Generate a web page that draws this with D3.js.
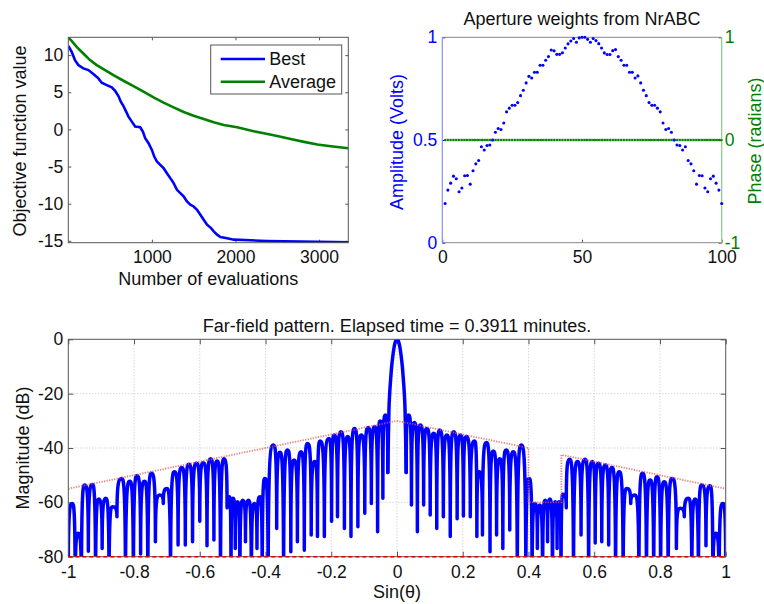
<!DOCTYPE html>
<html>
<head>
<meta charset="utf-8">
<script src="https://cdn.jsdelivr.net/npm/d3@7"></script>
<style>
  body { margin: 0; background: #fff; }
  svg text { font-family: "Liberation Sans", Arial, Helvetica, sans-serif; }
</style>
</head>
<body>
<svg id="fig" width="764" height="604"></svg>
<script>
// ---------- convergence history ----------
const bestEvals = [0, 8, 40, 80, 120, 180, 240, 300, 360, 400, 460, 520, 560, 600, 628, 660, 692, 720, 760, 800, 860, 892, 920, 960, 1000, 1028, 1060, 1100, 1140, 1180, 1220, 1260, 1300, 1340, 1380, 1420, 1460, 1500, 1540, 1580, 1620, 1660, 1708, 1740, 1780, 1820, 1900, 1980, 2180, 2380, 2780, 3180, 3350];
const bestValue = [11.2, 11.1, 10.45, 9.33, 8.66, 8.21, 7.99, 7.45, 6.87, 6.28, 5.97, 5.66, 5.21, 4.49, 3.73, 3.15, 2.39, 1.72, 1.05, 0.38, 0.29, -0.30, -1.19, -1.86, -2.76, -3.65, -4.32, -4.77, -5.22, -5.89, -6.56, -7.23, -8.13, -8.58, -9.02, -9.70, -10.14, -10.37, -10.81, -11.49, -12.16, -12.83, -13.28, -13.72, -14.17, -14.49, -14.66, -14.84, -14.93, -15.02, -15.11, -15.16, -15.2];
const avgEvals = [0, 40, 100, 180, 260, 340, 420, 540, 660, 780, 900, 1020, 1140, 1260, 1380, 1500, 1620, 1740, 1860, 2020, 2180, 2340, 2500, 2660, 2820, 2980, 3140, 3350];
const avgValue = [12.37, 11.92, 11.12, 10.22, 9.33, 8.66, 8.12, 7.31, 6.55, 5.84, 5.08, 4.32, 3.60, 2.97, 2.35, 1.85, 1.41, 0.96, 0.60, 0.29, -0.16, -0.52, -0.88, -1.28, -1.68, -2.04, -2.27, -2.53];
const convXTicks = [1000, 2000, 3000];
const convYTicks = [-15, -10, -5, 0, 5, 10];
const legendNames = ["Best", "Average"];

// ---------- aperture weights (element 1..100) ----------
const elementIndex = d3.range(1, 101);
const amplitude = [
  0.191, 0.256, 0.290, 0.324, 0.311, 0.248, 0.266, 0.326, 0.327, 0.285,
  0.350, 0.384, 0.400, 0.467, 0.451, 0.473, 0.476, 0.500, 0.538, 0.556,
  0.551, 0.583, 0.637, 0.655, 0.669, 0.669, 0.682, 0.716, 0.742, 0.778,
  0.810, 0.802, 0.830, 0.830, 0.864, 0.864, 0.888, 0.906, 0.938, 0.934,
  0.917, 0.917, 0.925, 0.948, 0.968, 0.982, 0.994, 0.976, 0.997, 1.000,
  1.000, 0.990, 0.976, 0.994, 0.984, 0.969, 0.948, 0.924, 0.916, 0.916,
  0.935, 0.940, 0.906, 0.888, 0.864, 0.864, 0.830, 0.830, 0.802, 0.812,
  0.778, 0.742, 0.716, 0.682, 0.669, 0.669, 0.655, 0.637, 0.583, 0.551,
  0.556, 0.538, 0.500, 0.476, 0.473, 0.451, 0.467, 0.400, 0.384, 0.350,
  0.285, 0.327, 0.326, 0.266, 0.248, 0.311, 0.324, 0.290, 0.256, 0.191
];
const phase = elementIndex.map(() => 0);
const apXTicks = [0, 50, 100];
const ampTicks = [0, 0.5, 1];
const phaseTicks = [-1, 0, 1];

// ---------- far-field pattern ----------
// main beam samples
const mainU  = [-0.028, -0.0262, -0.0245, -0.0223, -0.0195, -0.0162, -0.0125, -0.009, -0.005, 0, 0.005, 0.009, 0.0125, 0.0162, 0.0195, 0.0223, 0.0245, 0.0262, 0.028];
const mainDb = [-49, -36, -26, -20, -15, -10, -6, -3, -0.9, 0, -0.9, -3, -6, -10, -15, -20, -26, -36, -49];
// sidelobe peaks
const lobeU = [
  -0.988, -0.970, -0.950, -0.927, -0.907, -0.886, -0.866, -0.838, -0.813, -0.791,
  -0.768, -0.747, -0.722, -0.700, -0.677, -0.655, -0.633, -0.610, -0.589, -0.567,
  -0.547, -0.526, -0.510, -0.499, -0.485, -0.469, -0.452, -0.434, -0.417, -0.402,
  -0.376, -0.356, -0.333, -0.313, -0.292, -0.272, -0.250, -0.234, -0.207, -0.191,
  -0.1705, -0.150, -0.129, -0.109, -0.088, -0.068, -0.051, -0.0355,
  0.0355, 0.0527, 0.071, 0.091, 0.112, 0.130, 0.152, 0.1725, 0.193, 0.211,
  0.236, 0.250, 0.272, 0.293, 0.313, 0.332, 0.354, 0.378, 0.402, 0.420,
  0.434, 0.451, 0.465, 0.481, 0.493, 0.505, 0.525, 0.549, 0.572, 0.594,
  0.613, 0.634, 0.654, 0.676, 0.699, 0.724, 0.747, 0.770, 0.791, 0.813,
  0.837, 0.862, 0.887, 0.907, 0.927, 0.952, 0.970, 0.991
];
const lobeDb = [
  -60.4, -71.4, -53.6, -53.4, -58.8, -58.5, -61.6, -51.2, -52.2, -50.2,
  -52.2, -49.3, -57.3, -54.9, -48.7, -47.2, -46.0, -45.6, -45.4, -44.0,
  -44.8, -44.0, -57.9, -58.5, -59.8, -59.2, -59.2, -60.4, -57.9, -51.2,
  -38.9, -41.6, -40.7, -44.4, -41.4, -38.3, -45.0, -37.4, -36.5, -35.2,
  -34.0, -35.8, -32.8, -35.2, -32.5, -32.2, -30.1, -27.9,
  -27.9, -30.6, -31.5, -32.8, -34.6, -33.4, -35.2, -34.0, -35.2, -35.8,
  -37.4, -48.7, -38.0, -41.1, -44.0, -40.7, -41.4, -38.9, -51.2, -60.4,
  -61.0, -59.2, -58.8, -59.8, -59.8, -57.0, -44.1, -45.0, -44.1, -45.0,
  -45.6, -46.3, -47.2, -48.7, -54.9, -57.3, -49.3, -51.8, -50.6, -52.4,
  -51.2, -62.2, -58.5, -58.8, -53.6, -53.9, -71.4, -60.4
];
// pattern nulls between the lobes (values below -80 lie off the axes)
const nullU = [
  -1.000, -0.979, -0.960, -0.939, -0.917, -0.897, -0.876, -0.852, -0.826, -0.802,
  -0.780, -0.758, -0.735, -0.711, -0.689, -0.666, -0.644, -0.622, -0.600, -0.578,
  -0.557, -0.537, -0.517, -0.505, -0.492, -0.478, -0.461, -0.443, -0.426, -0.410,
  -0.392, -0.366, -0.345, -0.323, -0.303, -0.282, -0.261, -0.242, -0.221, -0.199,
  -0.181, -0.160, -0.140, -0.119, -0.098, -0.078, -0.059, -0.043, -0.028,
  0.028, 0.044, 0.062, 0.081, 0.101, 0.121, 0.141, 0.162, 0.183, 0.202,
  0.223, 0.243, 0.260, 0.283, 0.303, 0.322, 0.343, 0.366, 0.392, 0.411,
  0.427, 0.443, 0.458, 0.473, 0.487, 0.499, 0.515, 0.537, 0.560, 0.583,
  0.603, 0.623, 0.644, 0.665, 0.688, 0.711, 0.736, 0.759, 0.781, 0.802,
  0.825, 0.850, 0.874, 0.897, 0.917, 0.940, 0.961, 0.980, 1.000
];
const nullDb = [
  -85, -95, -95, -78, -95, -77, -95, -65.3, -95, -95,
  -79, -95, -74.5, -60.4, -95, -75.7, -75.7, -74.5, -67, -76,
  -73.9, -95, -62, -95, -77, -95, -74.5, -95, -77, -95,
  -95, -69.6, -95, -78.2, -74.5, -77.6, -72, -72.6, -72.6, -67,
  -65.3, -69.6, -72.6, -69, -64, -60.4, -70.8, -58.5, -49,
  -49, -61, -70.8, -61, -64.7, -69.6, -65.3, -72.6, -66, -65,
  -65.3, -72.6, -72, -78.2, -72, -77, -70.2, -95, -95, -95,
  -77, -95, -74.5, -95, -77, -95, -62, -95, -72, -95,
  -75, -74.5, -75.7, -95, -95, -60.4, -95, -95, -95, -95,
  -95, -77, -65.3, -95, -95, -76, -95, -95, -85
];
// sidelobe mask
const maskU  = [-1, 0, 0.4, 0.4, 0.5, 0.5, 1];
const maskDb = [-55, -30, -40, -60, -60, -42.5, -55];
const floorU  = [-1, 1];
const floorDb = [-80, -80];
const ffXTicks = [-1, -0.8, -0.6, -0.4, -0.2, 0, 0.2, 0.4, 0.6, 0.8, 1];
const ffYTicks = [-80, -60, -40, -20, 0];

// ---------- drawing ----------
const svg = d3.select("#fig");
const AXIS = "#555";
const FS = 17.5;      // tick labels
const LS = 18;        // axis labels and titles
const fmt = d => String(d);

function styleAxis(g, color) {
  g.select(".domain").remove();
  g.selectAll(".tick line").attr("stroke", color || AXIS);
  g.selectAll(".tick text").attr("font-size", FS).attr("fill", "#111");
}

// ===== convergence plot =====
{
  const x0 = 68.3, x1 = 348.3, y0 = 37.3, y1 = 242.7;
  const x = d3.scaleLinear().domain([0, 3350]).range([x0, x1]);
  const y = d3.scaleLinear().domain([-15.25, 12.4]).range([y1, y0]);
  const g = svg.append("g");
  const clipId = "clipConv";
  svg.append("clipPath").attr("id", clipId).append("rect")
    .attr("x", x0).attr("y", y0).attr("width", x1 - x0).attr("height", y1 - y0);

  g.append("g").attr("transform", `translate(0,${y1})`)
    .call(d3.axisBottom(x).tickValues(convXTicks).tickFormat(fmt).tickSize(-3).tickPadding(8.3))
    .call(styleAxis);
  g.append("g").attr("transform", `translate(0,${y0})`)
    .call(d3.axisTop(x).tickValues(convXTicks).tickSize(-3).tickFormat(""))
    .call(styleAxis);
  g.append("g").attr("transform", `translate(${x0},0)`)
    .call(d3.axisLeft(y).tickValues(convYTicks).tickFormat(fmt).tickSize(-3).tickPadding(5))
    .call(styleAxis);
  g.append("g").attr("transform", `translate(${x1},0)`)
    .call(d3.axisRight(y).tickValues(convYTicks).tickSize(-3).tickFormat(""))
    .call(styleAxis);

  const line = d3.line().x(d => x(d[0])).y(d => y(d[1]));
  const plot = g.append("g").attr("clip-path", `url(#${clipId})`);
  plot.append("path").datum(d3.zip(avgEvals, avgValue)).attr("d", line)
    .attr("fill", "none").attr("stroke", "#008000").attr("stroke-width", 2.6);
  plot.append("path").datum(d3.zip(bestEvals, bestValue)).attr("d", line)
    .attr("fill", "none").attr("stroke", "#0000ff").attr("stroke-width", 2.6);

  g.append("rect").attr("x", x0).attr("y", y0).attr("width", x1 - x0).attr("height", y1 - y0)
    .attr("fill", "none").attr("stroke", AXIS);

  // legend
  const lg = g.append("g");
  lg.append("rect").attr("x", 210.7).attr("y", 45).attr("width", 131).attr("height", 49)
    .attr("fill", "#fff").attr("stroke", AXIS);
  const lc = ["#0000ff", "#008000"];
  legendNames.forEach((name, i) => {
    const ly = 59 + i * 22.7;
    lg.append("line").attr("x1", 220.7).attr("x2", 265).attr("y1", ly).attr("y2", ly)
      .attr("stroke", lc[i]).attr("stroke-width", 2.6);
    lg.append("text").attr("x", 269.3).attr("y", ly + 6.3).attr("font-size", LS)
      .attr("fill", "#111").text(name);
  });

  g.append("text").attr("x", (x0 + x1) / 2).attr("y", 284.5).attr("text-anchor", "middle")
    .attr("font-size", LS).attr("fill", "#111").text("Number of evaluations");
  g.append("text").attr("transform", `translate(26,141) rotate(-90)`).attr("text-anchor", "middle")
    .attr("font-size", LS).attr("fill", "#111").text("Objective function value");
}

// ===== aperture weights =====
{
  const x0 = 442.3, x1 = 721.7, y0 = 37.3, y1 = 242.7;
  const x = d3.scaleLinear().domain([0, 100]).range([x0, x1]);
  const yA = d3.scaleLinear().domain([0, 1]).range([y1, y0]);
  const yPh = d3.scaleLinear().domain([-1, 1]).range([y1, y0]);
  const g = svg.append("g");
  const blue = "#0000ff", green = "#008000";

  g.append("g").attr("transform", `translate(0,${y1})`)
    .call(d3.axisBottom(x).tickValues(apXTicks).tickFormat(fmt).tickSize(-3).tickPadding(8.3))
    .call(styleAxis);
  g.append("g").attr("transform", `translate(${x0},0)`)
    .call(d3.axisLeft(yA).tickValues(ampTicks).tickFormat(fmt).tickSize(-3).tickPadding(5))
    .call(gg => { styleAxis(gg, blue); gg.selectAll(".tick text").attr("fill", blue); });
  g.append("g").attr("transform", `translate(${x1},0)`)
    .call(d3.axisRight(yPh).tickValues(phaseTicks).tickFormat(fmt).tickSize(-3).tickPadding(3))
    .call(gg => { styleAxis(gg, green); gg.selectAll(".tick text").attr("fill", green); });

  // frame: grey top/bottom, coloured left/right
  g.append("line").attr("x1", x0).attr("x2", x1).attr("y1", y0).attr("y2", y0).attr("stroke", "#888");
  g.append("line").attr("x1", x0).attr("x2", x1).attr("y1", y1).attr("y2", y1).attr("stroke", "#888");
  g.append("line").attr("x1", x0).attr("x2", x0).attr("y1", y0).attr("y2", y1).attr("stroke", "#8c8cff").attr("stroke-width", 1.2);
  g.append("line").attr("x1", x1).attr("x2", x1).attr("y1", y0).attr("y2", y1).attr("stroke", "#8cc88c").attr("stroke-width", 1.2);

  // phase (green dotted)
  g.append("path").datum(d3.zip(elementIndex, phase))
    .attr("d", d3.line().x(d => x(d[0])).y(d => yPh(d[1])))
    .attr("fill", "none").attr("stroke", green).attr("stroke-width", 2.3)
    .attr("stroke-dasharray", "1.1 0.5").attr("opacity", 0.9);
  g.append("g").selectAll("circle").data(d3.zip(elementIndex, phase)).join("circle")
    .attr("cx", d => x(d[0])).attr("cy", d => yPh(d[1])).attr("r", 1.1).attr("fill", green);

  // amplitude (blue dots)
  g.append("g").selectAll("circle").data(d3.zip(elementIndex, amplitude)).join("circle")
    .attr("cx", d => x(d[0])).attr("cy", d => yA(d[1])).attr("r", 1.55).attr("fill", blue);

  g.append("text").attr("x", (x0 + x1) / 2).attr("y", 24.5).attr("text-anchor", "middle")
    .attr("font-size", LS).attr("fill", "#111").text("Aperture weights from NrABC");
  g.append("text").attr("transform", `translate(402.5,142) rotate(-90)`).attr("text-anchor", "middle")
    .attr("font-size", LS).attr("fill", blue).text("Amplitude (Volts)");
  g.append("text").attr("transform", `translate(760.5,141) rotate(-90)`).attr("text-anchor", "middle")
    .attr("font-size", LS).attr("fill", green).text("Phase (radians)");
}

// ===== far-field pattern =====
{
  const x0 = 68.3, x1 = 725.7, y0 = 339.3, y1 = 556.7;
  const x = d3.scaleLinear().domain([-1, 1]).range([x0, x1]);
  const y = d3.scaleLinear().domain([-80, 0]).range([y1, y0]);
  const g = svg.append("g");
  svg.append("clipPath").attr("id", "clipFF").append("rect")
    .attr("x", x0).attr("y", y0).attr("width", x1 - x0).attr("height", y1 - y0);

  // dotted grid
  const grid = g.append("g").attr("stroke", "#bdbdbd").attr("stroke-dasharray", "1 2").attr("stroke-width", 0.9);
  ffXTicks.slice(1, -1).forEach(t => grid.append("line").attr("x1", x(t)).attr("x2", x(t)).attr("y1", y0).attr("y2", y1));
  ffYTicks.slice(1, -1).forEach(t => grid.append("line").attr("x1", x0).attr("x2", x1).attr("y1", y(t)).attr("y2", y(t)));

  g.append("g").attr("transform", `translate(0,${y1})`)
    .call(d3.axisBottom(x).tickValues(ffXTicks).tickFormat(fmt).tickSize(-5).tickPadding(9))
    .call(styleAxis);
  g.append("g").attr("transform", `translate(0,${y0})`)
    .call(d3.axisTop(x).tickValues(ffXTicks).tickSize(-5).tickFormat(""))
    .call(styleAxis);
  g.append("g").attr("transform", `translate(${x0},0)`)
    .call(d3.axisLeft(y).tickValues(ffYTicks).tickFormat(fmt).tickSize(-5).tickPadding(5))
    .call(styleAxis);
  g.append("g").attr("transform", `translate(${x1},0)`)
    .call(d3.axisRight(y).tickValues(ffYTicks).tickSize(-5).tickFormat(""))
    .call(styleAxis);

  const plot = g.append("g").attr("clip-path", "url(#clipFF)");

  // each sidelobe: rounded crown between its two neighbouring nulls
  const p = d3.path();
  lobeU.forEach((u, i) => {
    const j = d3.bisectRight(nullU, u);
    const ax = x(nullU[j - 1]), ay = y(nullDb[j - 1]);
    const bx = x(nullU[j]), by = y(nullDb[j]);
    const px = x(u), py = y(lobeDb[i]);
    p.moveTo(ax, ay);
    p.bezierCurveTo(ax, py, px - 0.5 * (px - ax), py, px, py);
    p.bezierCurveTo(px + 0.5 * (bx - px), py, bx, py, bx, by);
  });
  plot.append("path").attr("d", p.toString())
    .attr("fill", "none").attr("stroke", "#0000ff").attr("stroke-width", 3.5)
    .attr("stroke-linejoin", "round").attr("stroke-linecap", "round");
  plot.append("path").datum(d3.zip(mainU, mainDb))
    .attr("d", d3.line().x(d => x(d[0])).y(d => y(d[1])).curve(d3.curveMonotoneX))
    .attr("fill", "none").attr("stroke", "#0000ff").attr("stroke-width", 3.5)
    .attr("stroke-linejoin", "round").attr("stroke-linecap", "round");

  // mask envelope and floor
  plot.append("path").datum(d3.zip(maskU, maskDb))
    .attr("d", d3.line().x(d => x(d[0])).y(d => y(d[1])))
    .attr("fill", "none").attr("stroke", "#e05a5a").attr("stroke-width", 1.8)
    .attr("stroke-dasharray", "1.3 1.3").attr("opacity", 0.75);

  g.append("rect").attr("x", x0).attr("y", y0).attr("width", x1 - x0).attr("height", y1 - y0)
    .attr("fill", "none").attr("stroke", AXIS);

  g.append("path").datum(d3.zip(floorU, floorDb))
    .attr("d", d3.line().x(d => x(d[0])).y(d => y(d[1])))
    .attr("fill", "none").attr("stroke", "#e00000").attr("stroke-width", 1.6)
    .attr("stroke-dasharray", "4 3");

  g.append("text").attr("x", (x0 + x1) / 2).attr("y", 332).attr("text-anchor", "middle")
    .attr("font-size", LS).attr("fill", "#111").text("Far-field pattern. Elapsed time = 0.3911 minutes.");
  g.append("text").attr("x", (x0 + x1) / 2).attr("y", 598).attr("text-anchor", "middle")
    .attr("font-size", LS).attr("fill", "#111").text("Sin(θ)");
  g.append("text").attr("transform", `translate(29,448) rotate(-90)`).attr("text-anchor", "middle")
    .attr("font-size", LS).attr("fill", "#111").text("Magnitude (dB)");
}
</script>
</body>
</html>
